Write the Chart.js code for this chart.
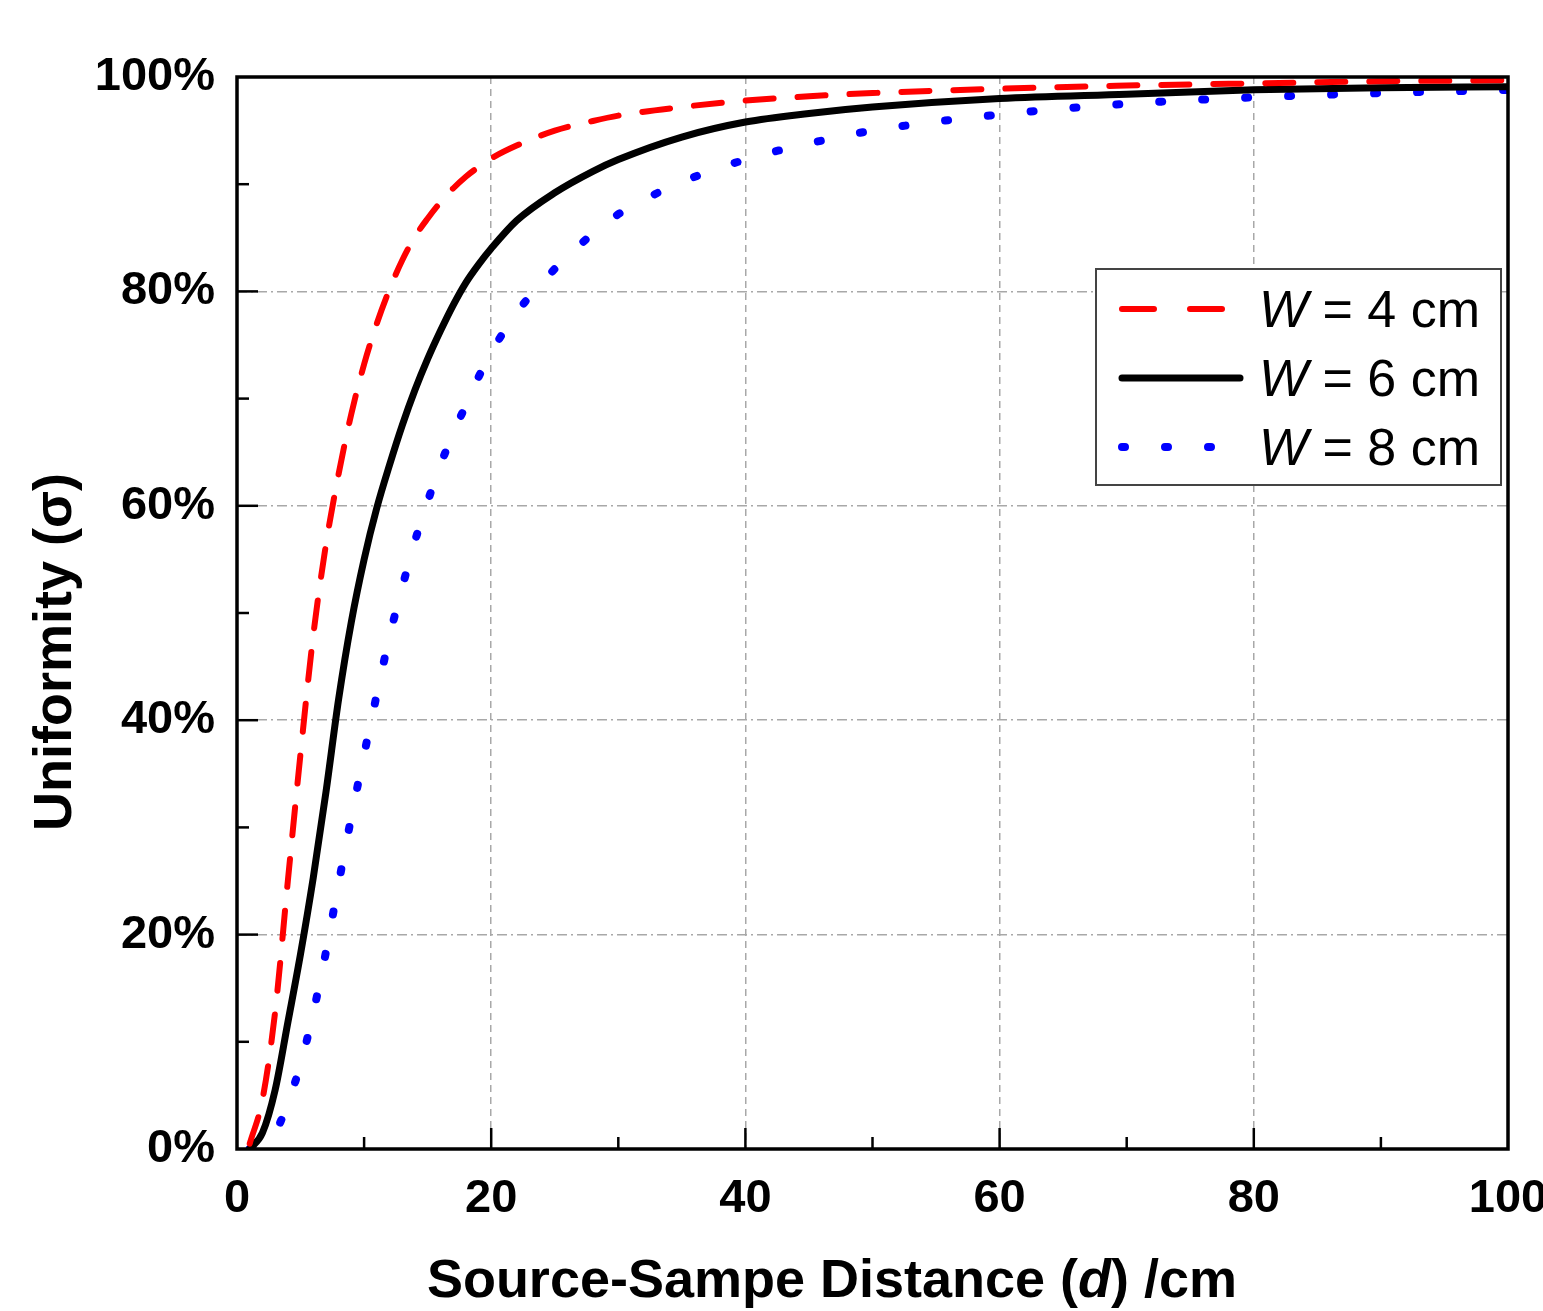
<!DOCTYPE html>
<html>
<head>
<meta charset="utf-8">
<script src="https://cdn.jsdelivr.net/npm/chart.js@4.4.0/dist/chart.umd.min.js"></script>
<style>
    body { margin: 0; background: #fff; }
    #wrap { position: relative; width: 1543px; height: 1311px; }
    #legendBox {
        position: absolute; left: 1095px; top: 268px; width: 403px; height: 214px;
        border: 2px solid #444; background: #fff;
        font-family: "Liberation Sans", Arial, sans-serif; font-size: 52px; color: #000;
    }
    #legendBox .row { display: flex; align-items: center; height: 69px; }
    #legendBox .row:first-child { margin-top: 4px; }
    #legendBox svg { margin-left: 20px; margin-right: 14px; }
</style>
</head>
<body>
<div id="wrap">
    <canvas id="uniChart" width="1543" height="1311"></canvas>
    <div id="legendBox"></div>
</div>
<script>
// source-sample distance d (cm)
const distances = [1, 2, 3, 4, 5, 6, 7, 8, 9, 10, 11, 12, 13, 14, 15, 16, 17, 18, 19, 20, 22, 25, 28, 30, 35, 40, 45, 50, 60, 70, 80, 90, 100];

// uniformity (%) per width W
const w4Values = [0.5, 4.6, 12.8, 25, 36.9, 47.9, 56.4, 63, 68.6, 73.2, 77, 80.2, 82.9, 85.1, 86.8, 88.3, 89.6, 90.7, 91.6, 92.4, 93.6, 95, 95.9, 96.4, 97.2, 97.8, 98.2, 98.5, 98.9, 99.2, 99.4, 99.6, 99.7];
const w6Values = [0, 1.5, 5.5, 11.8, 18.2, 25.3, 33.3, 42, 49.2, 55, 59.8, 63.8, 67.5, 70.8, 73.7, 76.3, 78.7, 80.8, 82.5, 84.0, 86.6, 89.2, 91.2, 92.3, 94.4, 95.8, 96.6, 97.2, 98, 98.4, 98.8, 99, 99.1];
const w8Values = [0, 0.3, 1.5, 4.3, 7.9, 12.7, 18.4, 24.8, 31, 36.8, 42.4, 47.8, 52.4, 56.7, 60.4, 63.8, 66.7, 69.4, 72, 74.3, 78, 82.1, 85.4, 87.2, 90.2, 92.3, 93.8, 95, 96.5, 97.5, 98.1, 98.5, 98.8];

const seriesNames = ['4', '6', '8'];
const xTitleParts = [['Source-Sampe Distance (', false], ['d', true], [') /cm', false]];
const yTitle = 'Uniformity (\u03c3)';

const FONT = '"Liberation Sans", Arial, sans-serif';

function toPoints(vals) {
    let pts = []
    for (var i = 0; i < distances.length; i++) {
        pts[i] = { x: distances[i], y: vals[i] }
    }
    return pts
}

const styles = [
    { color: '#ff0000', width: 6, dash: [28, 24], legendDash: '32 36' },
    { color: '#000000', width: 7, dash: [], legendDash: '' },
    { color: '#0000ff', width: 8, dash: [3, 40], legendDash: '3 40' }
];
const allValues = [w4Values, w6Values, w8Values];

let datasets = []
for (var i = 0; i < allValues.length; i++) {
    datasets.push({
        label: 'W = ' + seriesNames[i] + ' cm',
        data: toPoints(allValues[i]),
        borderColor: styles[i].color,
        borderWidth: styles[i].width,
        borderDash: styles[i].dash,
        borderCapStyle: 'round',
        pointRadius: 0,
        fill: false,
        cubicInterpolationMode: 'monotone'
    })
}

// frame, inward ticks and axis titles
const framePlugin = {
    id: 'frame',
    afterDraw(chart) {
        const ctx = chart.ctx;
        const a = chart.chartArea;
        const xs = chart.scales.x, ys = chart.scales.y;
        ctx.save();
        ctx.strokeStyle = '#000';
        ctx.lineWidth = 2.5;
        for (var v = 10; v < 100; v += 10) {
            const len = v % 20 == 0 ? 21 : 12;
            const px = xs.getPixelForValue(v);
            ctx.beginPath(); ctx.moveTo(px, a.bottom); ctx.lineTo(px, a.bottom - len); ctx.stroke();
            const py = ys.getPixelForValue(v);
            ctx.beginPath(); ctx.moveTo(a.left, py); ctx.lineTo(a.left + len, py); ctx.stroke();
        }
        ctx.lineWidth = 3.5;
        ctx.strokeRect(a.left, a.top, a.right - a.left, a.bottom - a.top);

        // x title
        ctx.fillStyle = '#000';
        ctx.textBaseline = 'middle';
        let total = 0;
        xTitleParts.forEach(p => {
            ctx.font = (p[1] ? 'italic ' : '') + 'bold 54px ' + FONT;
            total += ctx.measureText(p[0]).width;
        });
        let x = 832 - total / 2;
        xTitleParts.forEach(p => {
            ctx.font = (p[1] ? 'italic ' : '') + 'bold 54px ' + FONT;
            ctx.textAlign = 'left';
            ctx.fillText(p[0], x, 1282);
            x += ctx.measureText(p[0]).width;
        });

        // y title
        ctx.translate(56, 652);
        ctx.rotate(-Math.PI / 2);
        ctx.font = 'bold 54px ' + FONT;
        ctx.textAlign = 'center';
        ctx.fillText(yTitle, 0, 0);
        ctx.restore();
    }
};

new Chart(document.getElementById('uniChart'), {
    type: 'line',
    data: { datasets: datasets },
    options: {
        responsive: false,
        animation: false,
        layout: { padding: { left: 0, top: 77, right: 35, bottom: 0 } },
        plugins: { legend: { display: false }, tooltip: { enabled: false } },
        scales: {
            x: {
                type: 'linear', min: 0, max: 100,
                afterFit: function (s) { s.height = 162; s.paddingLeft = 0; s.paddingRight = 0; },
                ticks: { stepSize: 20, padding: 22, color: '#000', font: { family: FONT, size: 47, weight: 'bold' }, maxRotation: 0 },
                grid: {
                    drawTicks: false, lineWidth: 1.5,
                    color: c => (c.tick && c.tick.value > 0 && c.tick.value < 100) ? '#a8a8a8' : 'rgba(0,0,0,0)'
                },
                border: { display: false, dash: [7, 5] }
            },
            y: {
                min: 0, max: 100,
                afterFit: function (s) { s.width = 237; s.paddingTop = 0; s.paddingBottom = 0; },
                ticks: { stepSize: 20, padding: 22, color: '#000', font: { family: FONT, size: 47, weight: 'bold' },
                    callback: v => v + '%' },
                grid: {
                    drawTicks: false, lineWidth: 1.5,
                    color: c => (c.tick && c.tick.value > 0 && c.tick.value < 100) ? '#a8a8a8' : 'rgba(0,0,0,0)'
                },
                border: { display: false, dash: [10, 4, 2, 4] }
            }
        }
    },
    plugins: [framePlugin]
});

// legend box
const box = document.getElementById('legendBox');
for (var i = 0; i < datasets.length; i++) {
    const st = styles[i];
    const dashAttr = st.legendDash ? ' stroke-dasharray="' + st.legendDash + '"' : '';
    const row = document.createElement('div');
    row.className = 'row';
    row.innerHTML = '<svg width="128" height="20"><line x1="5" y1="10" x2="123" y2="10" stroke="' + st.color +
        '" stroke-width="' + st.width + '" stroke-linecap="round"' + dashAttr + '/></svg>' +
        '<span><i>W</i> = ' + seriesNames[i] + ' cm</span>';
    box.appendChild(row);
}
</script>
</body>
</html>
